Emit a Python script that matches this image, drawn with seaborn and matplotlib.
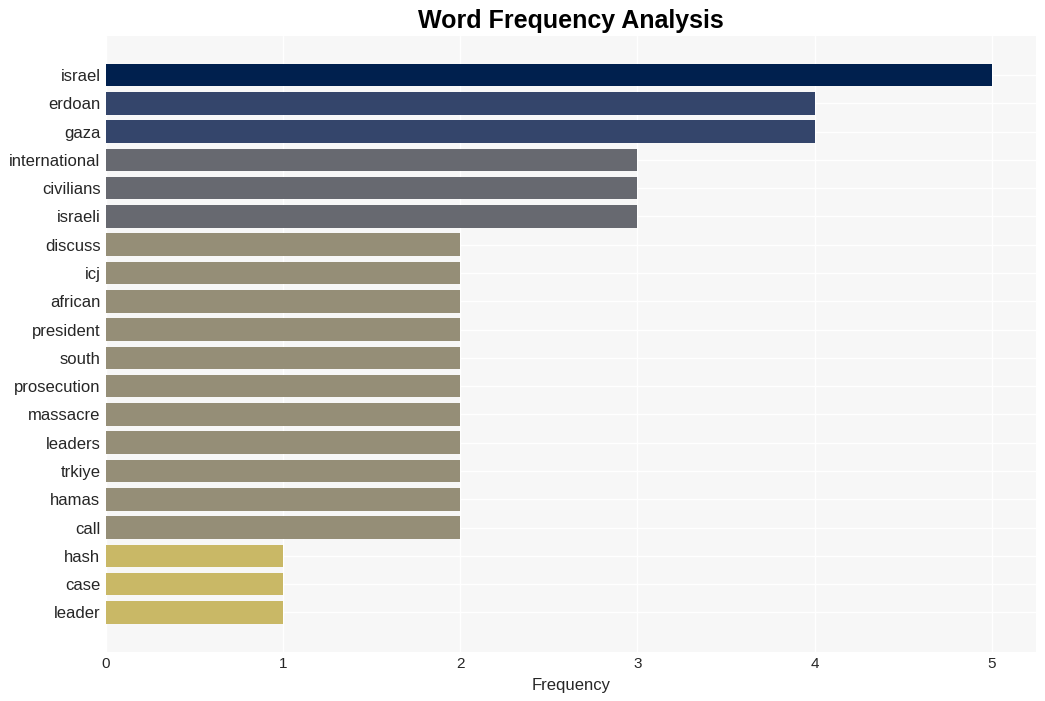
import matplotlib
matplotlib.use("Agg")
import matplotlib.pyplot as plt
import seaborn as sns
import pandas as pd

words = ["israel", "erdoan", "gaza", "international", "civilians", "israeli",
         "discuss", "icj", "african", "president", "south", "prosecution",
         "massacre", "leaders", "trkiye", "hamas", "call", "hash", "case", "leader"]
freqs = [5, 4, 4, 3, 3, 3, 2, 2, 2, 2, 2, 2, 2, 2, 2, 2, 2, 1, 1, 1]
level_colors = {5: "#00204e", 4: "#34456b", 3: "#676970", 2: "#958e77", 1: "#c9b866"}

df = pd.DataFrame({"word": words, "freq": freqs})
palette = {w: level_colors[f] for w, f in zip(words, freqs)}

sns.set_theme(style="whitegrid")
plt.rcParams["font.family"] = ["Liberation Sans", "DejaVu Sans"]

fig = plt.figure(figsize=(10.45, 7.01), dpi=100)
ax = fig.add_axes([106/1045, 1 - 652/701, (1036-106)/1045, (652-36)/701])
ax.set_facecolor("#f7f7f7")
sns.barplot(data=df, x="freq", y="word", hue="word", palette=palette,
            legend=False, ax=ax, width=0.8, saturation=1, orient="h",
            linewidth=0, edgecolor="none")
ax.set_xlim(0, 5.25)
ax.set_ylim(len(words) - 1 + 1.4, -1.38)
ax.set_xticks([0, 1, 2, 3, 4, 5])
ax.grid(True, color="white", linewidth=1)
ax.set_axisbelow(True)
for s in ax.spines.values():
    s.set_visible(False)
ax.tick_params(axis="both", length=0, colors="#262626")
ax.tick_params(axis="y", pad=4, labelsize=12)
ax.tick_params(axis="x", pad=3.5, labelsize=11)
ax.set_ylabel("")
ax.set_xlabel("Frequency", fontsize=12, color="#262626", labelpad=5)
ax.set_title("Word Frequency Analysis", fontsize=18, fontweight="bold", color="black", pad=6)
fig.savefig("out.png", dpi=100, facecolor="white")
